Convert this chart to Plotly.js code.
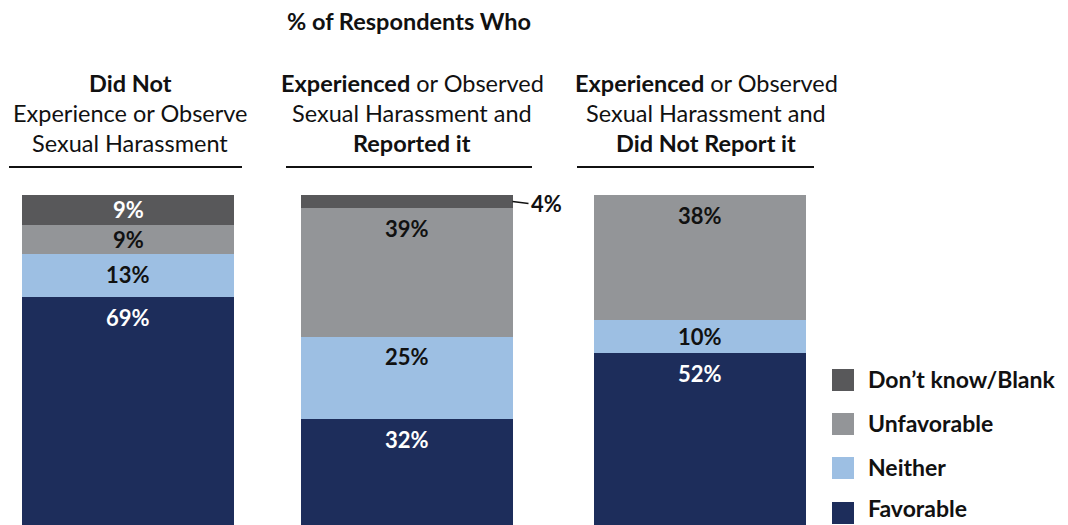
<!DOCTYPE html>
<html>
<head>
<meta charset="utf-8">
<script src="https://cdn.plot.ly/plotly-3.0.1.min.js"></script>
<style>html,body{margin:0;padding:0;background:#fff;}#chart{width:1068px;height:525px;}</style>
</head>
<body>
<div id="chart"></div>
<script>
// ---- data ----
const categories = ['Did Not Experience or Observe', 'Experienced or Observed and Reported it', 'Experienced or Observed and Did Not Report it'];
const seriesNames = ['Favorable', 'Neither', 'Unfavorable', 'Don\u2019t know/Blank'];
const favorable   = [69, 32, 52];
const neither     = [13, 25, 10];
const unfavorable = [9, 39, 38];
const dontKnow    = [9, 4, 0];
const headerLines = [
  ['<b>Did Not</b>', 'Experience or Observe', 'Sexual Harassment'],
  ['<b>Experienced</b> or Observed', 'Sexual Harassment and', '<b>Reported it</b>'],
  ['<b>Experienced</b> or Observed', 'Sexual Harassment and', '<b>Did Not Report it</b>']
];
const chartTitle = '<b>% of Respondents Who</b>';

// ---- style ----
const colors = ['#1d2d5b', '#9dbfe3', '#939598', '#58585a'];
const labelColors = ['#ffffff', '#111111', '#111111', '#ffffff'];
const FONT = 'Lato, "Open Sans", sans-serif';
const W = 1068, H = 525, TOP = 195, BOTTOM = 0;
const plotH = H - TOP - BOTTOM;
const pxPerUnitX = 286;
const barW = 212 / pxPerUnitX;
const barOffsets = [-barW / 2, -barW / 2 - 7.5 / pxPerUnitX, -barW / 2];

const seriesValues = [favorable, neither, unfavorable, dontKnow];

const traces = seriesValues.map((vals, s) => ({
  type: 'bar',
  name: seriesNames[s],
  x: categories,
  y: vals,
  width: barW,
  offset: barOffsets,
  marker: {color: colors[s], line: {width: 0}},
  hoverinfo: 'skip',
  showlegend: false
}));

const annotations = [];
const shapes = [];
const pxToUnitY = 100 / plotH;

// segment labels
categories.forEach((c, i) => {
  let cum = 0;
  seriesValues.forEach((vals, s) => {
    const v = vals[i];
    const bottom = cum;
    cum += v;
    if (v <= 0) return;
    const segPx = v / pxToUnitY;
    const barRight = i + barOffsets[i] + barW;
    const cx = i + barOffsets[i] + barW / 2;
    if (segPx < 20) {
      annotations.push({
        xref: 'x', yref: 'y', x: barRight, y: (bottom + cum) / 2,
        text: '<b>' + v + '%</b>', showarrow: true, arrowhead: 0, arrowwidth: 1.5, arrowcolor: '#111',
        ax: 16, ay: 2, xanchor: 'left', yanchor: 'middle',
        font: {family: FONT, size: 22, color: '#111'}
      });
    } else {
      const dy = Math.min(20, segPx / 2) * pxToUnitY;
      annotations.push({
        xref: 'x', yref: 'y', x: cx, y: cum - dy,
        text: '<b>' + v + '%</b>', showarrow: false, xanchor: 'center', yanchor: 'middle',
        font: {family: FONT, size: 22, color: labelColors[s]}
      });
    }
  });
});

// headers
const toPaperY = p => (H - BOTTOM - p) / plotH;
const headerCenters = [130, 412, 706];
const lineYs = [83, 113, 143];
headerLines.forEach((lines, i) => {
  lines.forEach((t, k) => {
    annotations.push({
      xref: 'paper', yref: 'paper', x: headerCenters[i] / W, y: toPaperY(lineYs[k]),
      text: t, showarrow: false, xanchor: 'center', yanchor: 'middle',
      font: {family: FONT, size: 23.5, color: '#111'}
    });
  });
});
const underlines = [[9, 242], [286, 532], [577, 814]];
underlines.forEach(u => {
  shapes.push({type: 'line', xref: 'paper', yref: 'paper', x0: u[0] / W, x1: u[1] / W,
    y0: toPaperY(167), y1: toPaperY(167), line: {color: '#111', width: 2}});
});
annotations.push({
  xref: 'paper', yref: 'paper', x: 409 / W, y: toPaperY(21), text: chartTitle,
  showarrow: false, xanchor: 'center', yanchor: 'middle',
  font: {family: FONT, size: 23.5, color: '#111'}
});

// custom legend (top to bottom: Don't know, Unfavorable, Neither, Favorable)
const legendRows = [380, 424, 468, 513];
[3, 2, 1, 0].forEach((s, r) => {
  const yc = legendRows[r];
  shapes.push({type: 'rect', xref: 'paper', yref: 'paper', x0: 832 / W, x1: 854 / W,
    y0: toPaperY(yc + 11), y1: toPaperY(yc - 11), fillcolor: colors[s], line: {width: 0}});
  const textBottom = Math.min(yc + 15, H - 1);
  annotations.push({
    xref: 'paper', yref: 'paper', x: 866 / W, y: toPaperY(textBottom), text: '<b>' + seriesNames[s] + '</b>',
    showarrow: false, xanchor: 'left', yanchor: 'bottom',
    font: {family: FONT, size: 23, color: '#111'}
  });
});

const layout = {
  width: W, height: H,
  margin: {l: 0, r: 0, t: TOP, b: BOTTOM, pad: 0},
  paper_bgcolor: '#ffffff', plot_bgcolor: '#ffffff',
  barmode: 'stack',
  showlegend: false,
  xaxis: {visible: false, range: [-128 / pxPerUnitX, -128 / pxPerUnitX + W / pxPerUnitX], fixedrange: true, type: 'category'},
  yaxis: {visible: false, range: [0, 100], fixedrange: true},
  annotations: annotations,
  shapes: shapes
};

Plotly.newPlot('chart', traces, layout, {displayModeBar: false, staticPlot: true});
</script>
</body>
</html>
